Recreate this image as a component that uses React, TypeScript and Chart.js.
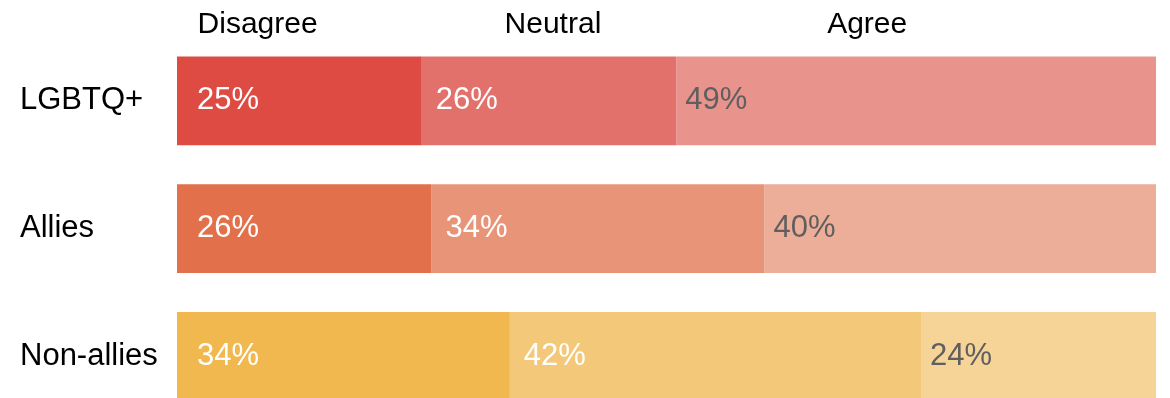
import React, { useEffect, useRef } from "react";
import { Chart, registerables } from "chart.js";

Chart.register(...registerables);

const categories = ["LGBTQ+", "Allies", "Non-allies"];
const seriesNames = ["Disagree", "Neutral", "Agree"];
const disagree = [25, 26, 34];
const neutral = [26, 34, 42];
const agree = [49, 40, 24];

const disagreeColors = ["#DD4B42", "#E2714B", "#F0B84E"];
const neutralColors = ["#E3716B", "#E79479", "#F3C878"];
const agreeColors = ["#E9938D", "#ECAE98", "#F6D498"];

const FONT = "'Liberation Sans', Arial, Helvetica, sans-serif";

const labelPlugin = {
  id: "segLabels",
  afterDatasetsDraw(chart: any) {
    const ctx = chart.ctx;
    const xScale = chart.scales.x;
    ctx.save();
    ctx.font = `31px ${FONT}`;
    ctx.textBaseline = "middle";
    ctx.textAlign = "left";
    const offsets = [20, 14, 9];
    const colors = ["#ffffff", "#ffffff", "#5f5f5f"];
    chart.data.datasets.forEach((ds: any, di: number) => {
      const meta = chart.getDatasetMeta(di);
      meta.data.forEach((bar: any, i: number) => {
        const left = Math.min(bar.x, bar.base);
        ctx.fillStyle = colors[di];
        ctx.fillText(`${ds.data[i]}%`, left + offsets[di], bar.y);
      });
    });
    // header labels
    ctx.fillStyle = "#000000";
    ctx.font = `30px ${FONT}`;
    ctx.textBaseline = "alphabetic";
    const headerPos = [
      { v: 2.1, align: "left" },
      { v: 38.4, align: "center" },
      { v: 70.5, align: "center" },
    ];
    seriesNames.forEach((name, i) => {
      ctx.textAlign = headerPos[i].align;
      ctx.fillText(name, xScale.getPixelForValue(headerPos[i].v), 33);
    });
    ctx.restore();
  },
};

export default function App() {
  const ref = useRef<HTMLCanvasElement>(null);
  useEffect(() => {
    if (!ref.current) return;
    const chart = new Chart(ref.current, {
      type: "bar",
      data: {
        labels: categories,
        datasets: [
          { label: seriesNames[0], data: disagree, backgroundColor: disagreeColors },
          { label: seriesNames[1], data: neutral, backgroundColor: neutralColors },
          { label: seriesNames[2], data: agree, backgroundColor: agreeColors },
        ],
      },
      options: {
        indexAxis: "y",
        animation: false,
        responsive: false,
        maintainAspectRatio: false,
        datasets: { bar: { categoryPercentage: 1, barPercentage: 0.695, borderWidth: 0 } },
        layout: { padding: { left: 20, right: 14, top: 37, bottom: 0 } },
        plugins: { legend: { display: false }, tooltip: { enabled: false } },
        scales: {
          x: { stacked: true, display: false, min: 0, max: 100 },
          y: {
            stacked: true,
            grid: { display: false, drawTicks: false },
            border: { display: false },
            afterFit: (axis: any) => {
              axis.width = 157;
            },
            ticks: {
              crossAlign: "far",
              padding: 0,
              color: "#000000",
              font: { size: 31, family: FONT },
            },
          },
        },
      },
      plugins: [labelPlugin],
    } as any);
    return () => chart.destroy();
  }, []);
  return (
    <div
      style={{
        position: "fixed",
        left: 0,
        top: 0,
        width: 1170,
        height: 398,
        overflow: "hidden",
        background: "#ffffff",
      }}
    >
      <canvas ref={ref} width={1170} height={439} style={{ display: "block" }} />
    </div>
  );
}
